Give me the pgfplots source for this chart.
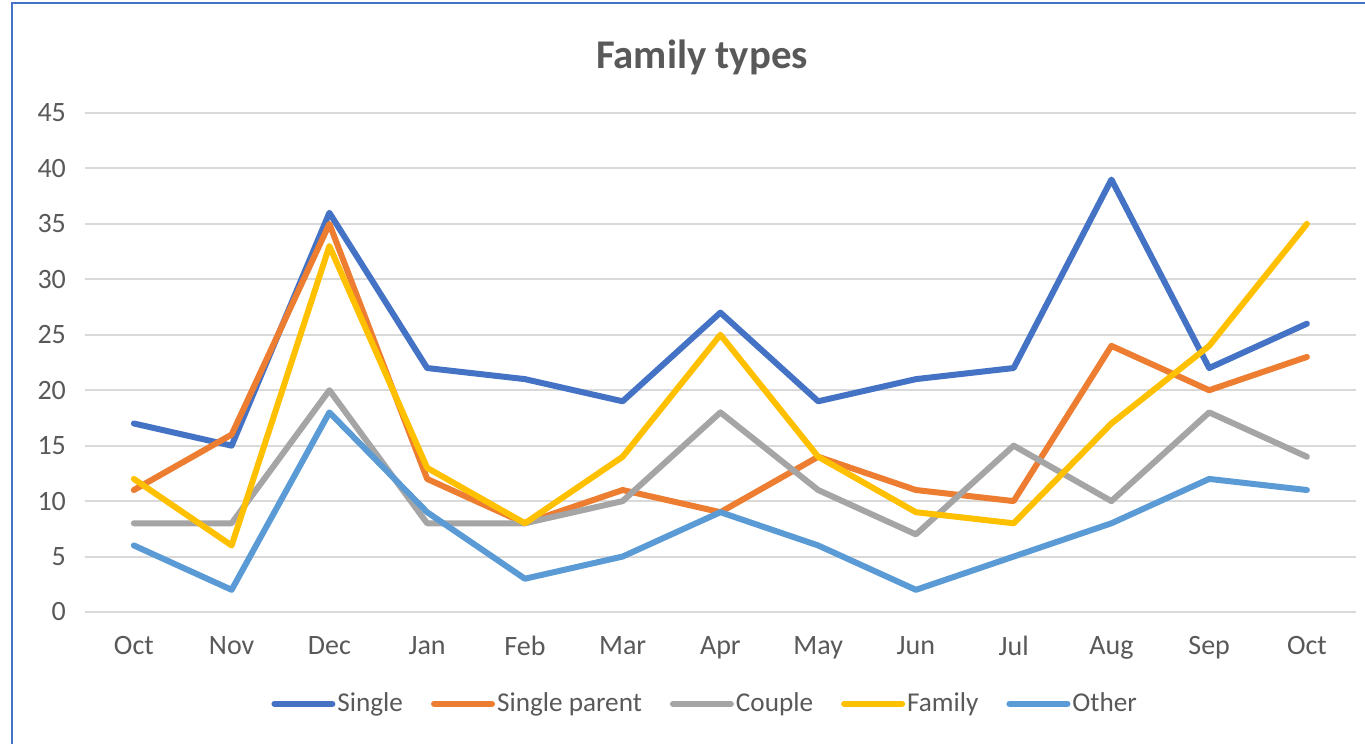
\documentclass[border=0pt]{standalone}
\usepackage{fontspec}
\setmainfont{Carlito}
\usepackage{pgfplots}
\pgfplotsset{compat=1.18}
\definecolor{cSingle}{HTML}{4472C4}
\definecolor{cParent}{HTML}{ED7D31}
\definecolor{cCouple}{HTML}{A5A5A5}
\definecolor{cFamily}{HTML}{FFC000}
\definecolor{cOther}{HTML}{5B9BD5}
\definecolor{txt}{HTML}{595959}
\definecolor{gridc}{HTML}{D9D9D9}
\begin{document}
\begin{tikzpicture}
\useasboundingbox (0,0) rectangle (682.5pt,372pt);
\fill[white] (0,0) rectangle (682.5pt,372pt);
\draw[cSingle, line width=1.2pt] (6pt,-2pt) -- (6pt,370.5pt) -- (690pt,370.5pt);
\node[font=\fontsize{20.4}{24}\selectfont\bfseries, text=txt] at (351pt,343.5pt) {Family types};
\begin{axis}[
  at={(42.5pt,66pt)}, anchor=south west,
  scale only axis, width=635.4pt, height=249.5pt,
  xmin=-0.5, xmax=12.5, ymin=0, ymax=45,
  xtick={0,...,12},
  xticklabels={Oct,Nov,Dec,Jan,Feb,Mar,Apr,May,Jun,Jul,Aug,Sep,Oct},
  ytick={0,5,...,45},
  axis line style={draw=none},
  major tick style={draw=none},
  major tick length=0pt,
  xmajorgrids=false,
  ymajorgrids=true, major grid style={draw=gridc, line width=1pt},
  /pgf/number format/assume math mode=true,
  tick label style={font=\fontsize{14}{16}\selectfont, text=txt},
  yticklabel style={xshift=-6pt},
  xticklabel style={yshift=-8.5pt},
  legend columns=5,
  legend style={at={(axis description cs:0.488,-0.184)}, anchor=center, draw=none, fill=none,
    font=\fontsize{13.6}{16}\selectfont, text=txt, inner sep=0pt,
    nodes={inner sep=1pt},
    /tikz/every even column/.append style={column sep=13pt}},
  legend image code/.code={\draw[#1, line cap=round, line width=3pt] (0pt,0pt) -- (29pt,0pt);},
  every axis plot/.append style={line width=3pt, line join=round, line cap=round, mark=none},
]
\addplot[cSingle] coordinates {(0,17)(1,15)(2,36)(3,22)(4,21)(5,19)(6,27)(7,19)(8,21)(9,22)(10,39)(11,22)(12,26)};
\addlegendentry{Single}
\addplot[cParent] coordinates {(0,11)(1,16)(2,35)(3,12)(4,8)(5,11)(6,9)(7,14)(8,11)(9,10)(10,24)(11,20)(12,23)};
\addlegendentry{Single parent}
\addplot[cCouple] coordinates {(0,8)(1,8)(2,20)(3,8)(4,8)(5,10)(6,18)(7,11)(8,7)(9,15)(10,10)(11,18)(12,14)};
\addlegendentry{Couple}
\addplot[cFamily] coordinates {(0,12)(1,6)(2,33)(3,13)(4,8)(5,14)(6,25)(7,14)(8,9)(9,8)(10,17)(11,24)(12,35)};
\addlegendentry{Family}
\addplot[cOther] coordinates {(0,6)(1,2)(2,18)(3,9)(4,3)(5,5)(6,9)(7,6)(8,2)(9,5)(10,8)(11,12)(12,11)};
\addlegendentry{Other}
\end{axis}
\end{tikzpicture}
\end{document}
